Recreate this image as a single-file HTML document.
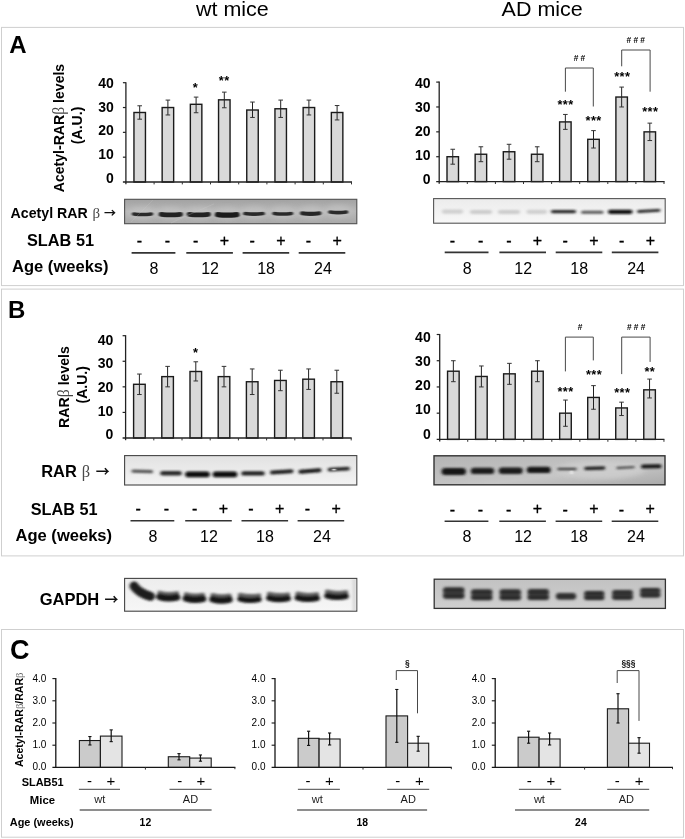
<!DOCTYPE html>
<html lang="en"><head><meta charset="utf-8"><title>Figure</title>
<style>html,body{margin:0;padding:0;background:#fff}svg{display:block}</style></head><body>
<svg width="685" height="839" viewBox="0 0 685 839" font-family='"Liberation Sans", sans-serif'>
<defs>
<filter id="b1" filterUnits="userSpaceOnUse" x="100" y="190" width="585" height="430"><feGaussianBlur stdDeviation="0.9 0.7"/></filter>
<filter id="b2" filterUnits="userSpaceOnUse" x="100" y="190" width="585" height="430"><feGaussianBlur stdDeviation="1.4 1.0"/></filter>
<filter id="b3" filterUnits="userSpaceOnUse" x="100" y="190" width="585" height="430"><feGaussianBlur stdDeviation="3 2.2"/></filter>
<linearGradient id="gAL" x1="0" y1="0" x2="0" y2="1"><stop offset="0" stop-color="#a2a2a2"/><stop offset="0.5" stop-color="#b8b8b8"/><stop offset="1" stop-color="#a9a9a9"/></linearGradient>
<linearGradient id="gAR" x1="0" y1="0" x2="0" y2="1"><stop offset="0" stop-color="#ececec"/><stop offset="1" stop-color="#f8f8f8"/></linearGradient>
<linearGradient id="gBL" x1="0" y1="0" x2="0" y2="1"><stop offset="0" stop-color="#e2e2e2"/><stop offset="1" stop-color="#f3f3f3"/></linearGradient>
<linearGradient id="gBR" x1="0" y1="0" x2="1" y2="1"><stop offset="0" stop-color="#b4b4b4"/><stop offset="0.6" stop-color="#c6c6c6"/><stop offset="1" stop-color="#aaaaaa"/></linearGradient>
<linearGradient id="gGL" x1="0" y1="0" x2="0" y2="1"><stop offset="0" stop-color="#ededed"/><stop offset="1" stop-color="#f6f6f6"/></linearGradient>
<linearGradient id="gGR" x1="0" y1="0" x2="0" y2="1"><stop offset="0" stop-color="#c2c2c2"/><stop offset="1" stop-color="#cfcfcf"/></linearGradient>
</defs>
<rect width="685" height="839" fill="#fff"/>
<text x="232.4" y="15.6" font-size="20.8" text-anchor="middle" fill="#000" textLength="72.8" lengthAdjust="spacingAndGlyphs">wt mice</text>
<text x="542.2" y="16.3" font-size="21" text-anchor="middle" fill="#000" textLength="81.2" lengthAdjust="spacingAndGlyphs">AD mice</text>
<rect x="1.50" y="27.40" width="682.00" height="258.20" fill="none" stroke="#cfcfcf" stroke-width="1"/>
<rect x="1.50" y="289.10" width="682.00" height="266.80" fill="none" stroke="#cfcfcf" stroke-width="1"/>
<rect x="1.50" y="629.50" width="682.00" height="207.70" fill="none" stroke="#cfcfcf" stroke-width="1"/>
<text x="9.3" y="53.1" font-size="24" font-weight="bold" text-anchor="start" fill="#000">A</text>
<text x="8.0" y="317.7" font-size="24" font-weight="bold" text-anchor="start" fill="#000">B</text>
<text x="9.9" y="659.0" font-size="27" font-weight="bold" text-anchor="start" fill="#000">C</text>
<rect x="133.95" y="112.49" width="11.50" height="69.51" fill="#d9d9d9" stroke="#1a1a1a" stroke-width="1.4"/>
<line x1="139.70" y1="105.79" x2="139.70" y2="119.19" stroke="#222" stroke-width="1.0"/>
<line x1="137.40" y1="105.79" x2="142.00" y2="105.79" stroke="#333" stroke-width="1.0"/>
<line x1="137.40" y1="119.19" x2="142.00" y2="119.19" stroke="#333" stroke-width="1.0"/>
<rect x="162.15" y="107.53" width="11.50" height="74.47" fill="#d9d9d9" stroke="#1a1a1a" stroke-width="1.4"/>
<line x1="167.90" y1="100.08" x2="167.90" y2="114.97" stroke="#222" stroke-width="1.0"/>
<line x1="165.60" y1="100.08" x2="170.20" y2="100.08" stroke="#333" stroke-width="1.0"/>
<line x1="165.60" y1="114.97" x2="170.20" y2="114.97" stroke="#333" stroke-width="1.0"/>
<rect x="190.35" y="104.30" width="11.50" height="77.70" fill="#d9d9d9" stroke="#1a1a1a" stroke-width="1.4"/>
<line x1="196.10" y1="97.10" x2="196.10" y2="112.74" stroke="#222" stroke-width="1.0"/>
<line x1="193.80" y1="97.10" x2="198.40" y2="97.10" stroke="#333" stroke-width="1.0"/>
<line x1="193.80" y1="112.74" x2="198.40" y2="112.74" stroke="#333" stroke-width="1.0"/>
<rect x="218.55" y="99.83" width="11.50" height="82.17" fill="#d9d9d9" stroke="#1a1a1a" stroke-width="1.4"/>
<line x1="224.30" y1="92.13" x2="224.30" y2="107.77" stroke="#222" stroke-width="1.0"/>
<line x1="222.00" y1="92.13" x2="226.60" y2="92.13" stroke="#333" stroke-width="1.0"/>
<line x1="222.00" y1="107.77" x2="226.60" y2="107.77" stroke="#333" stroke-width="1.0"/>
<rect x="246.75" y="110.01" width="11.50" height="71.99" fill="#d9d9d9" stroke="#1a1a1a" stroke-width="1.4"/>
<line x1="252.50" y1="102.06" x2="252.50" y2="117.45" stroke="#222" stroke-width="1.0"/>
<line x1="250.20" y1="102.06" x2="254.80" y2="102.06" stroke="#333" stroke-width="1.0"/>
<line x1="250.20" y1="117.45" x2="254.80" y2="117.45" stroke="#333" stroke-width="1.0"/>
<rect x="274.95" y="108.77" width="11.50" height="73.23" fill="#d9d9d9" stroke="#1a1a1a" stroke-width="1.4"/>
<line x1="280.70" y1="100.08" x2="280.70" y2="117.45" stroke="#222" stroke-width="1.0"/>
<line x1="278.40" y1="100.08" x2="283.00" y2="100.08" stroke="#333" stroke-width="1.0"/>
<line x1="278.40" y1="117.45" x2="283.00" y2="117.45" stroke="#333" stroke-width="1.0"/>
<rect x="303.15" y="107.53" width="11.50" height="74.47" fill="#d9d9d9" stroke="#1a1a1a" stroke-width="1.4"/>
<line x1="308.90" y1="100.08" x2="308.90" y2="114.97" stroke="#222" stroke-width="1.0"/>
<line x1="306.60" y1="100.08" x2="311.20" y2="100.08" stroke="#333" stroke-width="1.0"/>
<line x1="306.60" y1="114.97" x2="311.20" y2="114.97" stroke="#333" stroke-width="1.0"/>
<rect x="331.35" y="112.49" width="11.50" height="69.51" fill="#d9d9d9" stroke="#1a1a1a" stroke-width="1.4"/>
<line x1="337.10" y1="105.54" x2="337.10" y2="119.94" stroke="#222" stroke-width="1.0"/>
<line x1="334.80" y1="105.54" x2="339.40" y2="105.54" stroke="#333" stroke-width="1.0"/>
<line x1="334.80" y1="119.94" x2="339.40" y2="119.94" stroke="#333" stroke-width="1.0"/>
<line x1="125.90" y1="82.20" x2="125.90" y2="184.20" stroke="#222" stroke-width="1.3"/>
<line x1="122.90" y1="182.00" x2="352.00" y2="182.00" stroke="#222" stroke-width="1.3"/>
<line x1="122.90" y1="157.18" x2="125.90" y2="157.18" stroke="#222" stroke-width="1.2"/>
<line x1="122.90" y1="132.35" x2="125.90" y2="132.35" stroke="#222" stroke-width="1.2"/>
<line x1="122.90" y1="107.53" x2="125.90" y2="107.53" stroke="#222" stroke-width="1.2"/>
<line x1="122.90" y1="82.70" x2="125.90" y2="82.70" stroke="#222" stroke-width="1.2"/>
<line x1="154.10" y1="182.00" x2="154.10" y2="184.40" stroke="#333" stroke-width="1.0"/>
<line x1="182.30" y1="182.00" x2="182.30" y2="184.40" stroke="#333" stroke-width="1.0"/>
<line x1="210.50" y1="182.00" x2="210.50" y2="184.40" stroke="#333" stroke-width="1.0"/>
<line x1="238.70" y1="182.00" x2="238.70" y2="184.40" stroke="#333" stroke-width="1.0"/>
<line x1="266.90" y1="182.00" x2="266.90" y2="184.40" stroke="#333" stroke-width="1.0"/>
<line x1="295.10" y1="182.00" x2="295.10" y2="184.40" stroke="#333" stroke-width="1.0"/>
<line x1="323.30" y1="182.00" x2="323.30" y2="184.40" stroke="#333" stroke-width="1.0"/>
<line x1="351.50" y1="182.00" x2="351.50" y2="184.40" stroke="#333" stroke-width="1.0"/>
<text x="113.9" y="182.6" font-size="14.0" font-weight="bold" text-anchor="end" fill="#000">0</text>
<text x="113.9" y="158.9" font-size="14.0" font-weight="bold" text-anchor="end" fill="#000">10</text>
<text x="113.9" y="135.2" font-size="14.0" font-weight="bold" text-anchor="end" fill="#000">20</text>
<text x="113.9" y="111.5" font-size="14.0" font-weight="bold" text-anchor="end" fill="#000">30</text>
<text x="113.9" y="87.8" font-size="14.0" font-weight="bold" text-anchor="end" fill="#000">40</text>
<rect x="447.00" y="156.72" width="11.50" height="24.88" fill="#d9d9d9" stroke="#1a1a1a" stroke-width="1.4"/>
<line x1="452.75" y1="149.26" x2="452.75" y2="164.19" stroke="#222" stroke-width="1.0"/>
<line x1="450.45" y1="149.26" x2="455.05" y2="149.26" stroke="#333" stroke-width="1.0"/>
<line x1="450.45" y1="164.19" x2="455.05" y2="164.19" stroke="#333" stroke-width="1.0"/>
<rect x="475.15" y="154.24" width="11.50" height="27.36" fill="#d9d9d9" stroke="#1a1a1a" stroke-width="1.4"/>
<line x1="480.90" y1="146.78" x2="480.90" y2="161.70" stroke="#222" stroke-width="1.0"/>
<line x1="478.60" y1="146.78" x2="483.20" y2="146.78" stroke="#333" stroke-width="1.0"/>
<line x1="478.60" y1="161.70" x2="483.20" y2="161.70" stroke="#333" stroke-width="1.0"/>
<rect x="503.30" y="151.75" width="11.50" height="29.85" fill="#d9d9d9" stroke="#1a1a1a" stroke-width="1.4"/>
<line x1="509.05" y1="144.29" x2="509.05" y2="159.21" stroke="#222" stroke-width="1.0"/>
<line x1="506.75" y1="144.29" x2="511.35" y2="144.29" stroke="#333" stroke-width="1.0"/>
<line x1="506.75" y1="159.21" x2="511.35" y2="159.21" stroke="#333" stroke-width="1.0"/>
<rect x="531.45" y="154.24" width="11.50" height="27.36" fill="#d9d9d9" stroke="#1a1a1a" stroke-width="1.4"/>
<line x1="537.20" y1="146.78" x2="537.20" y2="161.70" stroke="#222" stroke-width="1.0"/>
<line x1="534.90" y1="146.78" x2="539.50" y2="146.78" stroke="#333" stroke-width="1.0"/>
<line x1="534.90" y1="161.70" x2="539.50" y2="161.70" stroke="#333" stroke-width="1.0"/>
<rect x="559.60" y="121.90" width="11.50" height="59.70" fill="#d9d9d9" stroke="#1a1a1a" stroke-width="1.4"/>
<line x1="565.35" y1="114.44" x2="565.35" y2="129.36" stroke="#222" stroke-width="1.0"/>
<line x1="563.05" y1="114.44" x2="567.65" y2="114.44" stroke="#333" stroke-width="1.0"/>
<line x1="563.05" y1="129.36" x2="567.65" y2="129.36" stroke="#333" stroke-width="1.0"/>
<rect x="587.75" y="139.31" width="11.50" height="42.29" fill="#d9d9d9" stroke="#1a1a1a" stroke-width="1.4"/>
<line x1="593.50" y1="130.61" x2="593.50" y2="148.02" stroke="#222" stroke-width="1.0"/>
<line x1="591.20" y1="130.61" x2="595.80" y2="130.61" stroke="#333" stroke-width="1.0"/>
<line x1="591.20" y1="148.02" x2="595.80" y2="148.02" stroke="#333" stroke-width="1.0"/>
<rect x="615.90" y="97.03" width="11.50" height="84.57" fill="#d9d9d9" stroke="#1a1a1a" stroke-width="1.4"/>
<line x1="621.65" y1="87.08" x2="621.65" y2="106.97" stroke="#222" stroke-width="1.0"/>
<line x1="619.35" y1="87.08" x2="623.95" y2="87.08" stroke="#333" stroke-width="1.0"/>
<line x1="619.35" y1="106.97" x2="623.95" y2="106.97" stroke="#333" stroke-width="1.0"/>
<rect x="644.05" y="131.85" width="11.50" height="49.75" fill="#d9d9d9" stroke="#1a1a1a" stroke-width="1.4"/>
<line x1="649.80" y1="123.14" x2="649.80" y2="140.56" stroke="#222" stroke-width="1.0"/>
<line x1="647.50" y1="123.14" x2="652.10" y2="123.14" stroke="#333" stroke-width="1.0"/>
<line x1="647.50" y1="140.56" x2="652.10" y2="140.56" stroke="#333" stroke-width="1.0"/>
<line x1="439.20" y1="81.60" x2="439.20" y2="183.80" stroke="#222" stroke-width="1.3"/>
<line x1="436.20" y1="181.60" x2="664.60" y2="181.60" stroke="#222" stroke-width="1.3"/>
<line x1="436.20" y1="156.72" x2="439.20" y2="156.72" stroke="#222" stroke-width="1.2"/>
<line x1="436.20" y1="131.85" x2="439.20" y2="131.85" stroke="#222" stroke-width="1.2"/>
<line x1="436.20" y1="106.97" x2="439.20" y2="106.97" stroke="#222" stroke-width="1.2"/>
<line x1="436.20" y1="82.10" x2="439.20" y2="82.10" stroke="#222" stroke-width="1.2"/>
<line x1="467.30" y1="181.60" x2="467.30" y2="184.00" stroke="#333" stroke-width="1.0"/>
<line x1="495.40" y1="181.60" x2="495.40" y2="184.00" stroke="#333" stroke-width="1.0"/>
<line x1="523.50" y1="181.60" x2="523.50" y2="184.00" stroke="#333" stroke-width="1.0"/>
<line x1="551.60" y1="181.60" x2="551.60" y2="184.00" stroke="#333" stroke-width="1.0"/>
<line x1="579.70" y1="181.60" x2="579.70" y2="184.00" stroke="#333" stroke-width="1.0"/>
<line x1="607.80" y1="181.60" x2="607.80" y2="184.00" stroke="#333" stroke-width="1.0"/>
<line x1="635.90" y1="181.60" x2="635.90" y2="184.00" stroke="#333" stroke-width="1.0"/>
<line x1="664.00" y1="181.60" x2="664.00" y2="184.00" stroke="#333" stroke-width="1.0"/>
<text x="430.5" y="183.6" font-size="14.0" font-weight="bold" text-anchor="end" fill="#000">0</text>
<text x="430.5" y="159.8" font-size="14.0" font-weight="bold" text-anchor="end" fill="#000">10</text>
<text x="430.5" y="136.0" font-size="14.0" font-weight="bold" text-anchor="end" fill="#000">20</text>
<text x="430.5" y="112.2" font-size="14.0" font-weight="bold" text-anchor="end" fill="#000">30</text>
<text x="430.5" y="88.4" font-size="14.0" font-weight="bold" text-anchor="end" fill="#000">40</text>
<rect x="133.60" y="384.29" width="11.60" height="53.71" fill="#d9d9d9" stroke="#1a1a1a" stroke-width="1.4"/>
<line x1="139.40" y1="374.06" x2="139.40" y2="394.52" stroke="#222" stroke-width="1.0"/>
<line x1="137.10" y1="374.06" x2="141.70" y2="374.06" stroke="#333" stroke-width="1.0"/>
<line x1="137.10" y1="394.52" x2="141.70" y2="394.52" stroke="#333" stroke-width="1.0"/>
<rect x="161.80" y="376.62" width="11.60" height="61.38" fill="#d9d9d9" stroke="#1a1a1a" stroke-width="1.4"/>
<line x1="167.60" y1="366.39" x2="167.60" y2="386.85" stroke="#222" stroke-width="1.0"/>
<line x1="165.30" y1="366.39" x2="169.90" y2="366.39" stroke="#333" stroke-width="1.0"/>
<line x1="165.30" y1="386.85" x2="169.90" y2="386.85" stroke="#333" stroke-width="1.0"/>
<rect x="190.00" y="371.50" width="11.60" height="66.50" fill="#d9d9d9" stroke="#1a1a1a" stroke-width="1.4"/>
<line x1="195.80" y1="361.79" x2="195.80" y2="380.97" stroke="#222" stroke-width="1.0"/>
<line x1="193.50" y1="361.79" x2="198.10" y2="361.79" stroke="#333" stroke-width="1.0"/>
<line x1="193.50" y1="380.97" x2="198.10" y2="380.97" stroke="#333" stroke-width="1.0"/>
<rect x="218.20" y="376.62" width="11.60" height="61.38" fill="#d9d9d9" stroke="#1a1a1a" stroke-width="1.4"/>
<line x1="224.00" y1="366.39" x2="224.00" y2="386.85" stroke="#222" stroke-width="1.0"/>
<line x1="221.70" y1="366.39" x2="226.30" y2="366.39" stroke="#333" stroke-width="1.0"/>
<line x1="221.70" y1="386.85" x2="226.30" y2="386.85" stroke="#333" stroke-width="1.0"/>
<rect x="246.40" y="381.74" width="11.60" height="56.26" fill="#d9d9d9" stroke="#1a1a1a" stroke-width="1.4"/>
<line x1="252.20" y1="368.95" x2="252.20" y2="394.52" stroke="#222" stroke-width="1.0"/>
<line x1="249.90" y1="368.95" x2="254.50" y2="368.95" stroke="#333" stroke-width="1.0"/>
<line x1="249.90" y1="394.52" x2="254.50" y2="394.52" stroke="#333" stroke-width="1.0"/>
<rect x="274.60" y="380.46" width="11.60" height="57.54" fill="#d9d9d9" stroke="#1a1a1a" stroke-width="1.4"/>
<line x1="280.40" y1="370.23" x2="280.40" y2="390.69" stroke="#222" stroke-width="1.0"/>
<line x1="278.10" y1="370.23" x2="282.70" y2="370.23" stroke="#333" stroke-width="1.0"/>
<line x1="278.10" y1="390.69" x2="282.70" y2="390.69" stroke="#333" stroke-width="1.0"/>
<rect x="302.80" y="379.18" width="11.60" height="58.82" fill="#d9d9d9" stroke="#1a1a1a" stroke-width="1.4"/>
<line x1="308.60" y1="368.95" x2="308.60" y2="389.41" stroke="#222" stroke-width="1.0"/>
<line x1="306.30" y1="368.95" x2="310.90" y2="368.95" stroke="#333" stroke-width="1.0"/>
<line x1="306.30" y1="389.41" x2="310.90" y2="389.41" stroke="#333" stroke-width="1.0"/>
<rect x="331.00" y="381.74" width="11.60" height="56.26" fill="#d9d9d9" stroke="#1a1a1a" stroke-width="1.4"/>
<line x1="336.80" y1="370.23" x2="336.80" y2="393.24" stroke="#222" stroke-width="1.0"/>
<line x1="334.50" y1="370.23" x2="339.10" y2="370.23" stroke="#333" stroke-width="1.0"/>
<line x1="334.50" y1="393.24" x2="339.10" y2="393.24" stroke="#333" stroke-width="1.0"/>
<line x1="125.60" y1="335.20" x2="125.60" y2="440.20" stroke="#222" stroke-width="1.3"/>
<line x1="122.60" y1="438.00" x2="351.70" y2="438.00" stroke="#222" stroke-width="1.3"/>
<line x1="122.60" y1="412.43" x2="125.60" y2="412.43" stroke="#222" stroke-width="1.2"/>
<line x1="122.60" y1="386.85" x2="125.60" y2="386.85" stroke="#222" stroke-width="1.2"/>
<line x1="122.60" y1="361.27" x2="125.60" y2="361.27" stroke="#222" stroke-width="1.2"/>
<line x1="122.60" y1="335.70" x2="125.60" y2="335.70" stroke="#222" stroke-width="1.2"/>
<line x1="153.80" y1="438.00" x2="153.80" y2="440.40" stroke="#333" stroke-width="1.0"/>
<line x1="182.00" y1="438.00" x2="182.00" y2="440.40" stroke="#333" stroke-width="1.0"/>
<line x1="210.20" y1="438.00" x2="210.20" y2="440.40" stroke="#333" stroke-width="1.0"/>
<line x1="238.40" y1="438.00" x2="238.40" y2="440.40" stroke="#333" stroke-width="1.0"/>
<line x1="266.60" y1="438.00" x2="266.60" y2="440.40" stroke="#333" stroke-width="1.0"/>
<line x1="294.80" y1="438.00" x2="294.80" y2="440.40" stroke="#333" stroke-width="1.0"/>
<line x1="323.00" y1="438.00" x2="323.00" y2="440.40" stroke="#333" stroke-width="1.0"/>
<line x1="351.20" y1="438.00" x2="351.20" y2="440.40" stroke="#333" stroke-width="1.0"/>
<text x="113.4" y="439.1" font-size="14.0" font-weight="bold" text-anchor="end" fill="#000">0</text>
<text x="113.4" y="415.5" font-size="14.0" font-weight="bold" text-anchor="end" fill="#000">10</text>
<text x="113.4" y="391.9" font-size="14.0" font-weight="bold" text-anchor="end" fill="#000">20</text>
<text x="113.4" y="368.3" font-size="14.0" font-weight="bold" text-anchor="end" fill="#000">30</text>
<text x="113.4" y="344.7" font-size="14.0" font-weight="bold" text-anchor="end" fill="#000">40</text>
<rect x="447.55" y="371.21" width="11.60" height="68.19" fill="#d9d9d9" stroke="#1a1a1a" stroke-width="1.4"/>
<line x1="453.35" y1="360.72" x2="453.35" y2="381.70" stroke="#222" stroke-width="1.0"/>
<line x1="451.05" y1="360.72" x2="455.65" y2="360.72" stroke="#333" stroke-width="1.0"/>
<line x1="451.05" y1="381.70" x2="455.65" y2="381.70" stroke="#333" stroke-width="1.0"/>
<rect x="475.58" y="376.46" width="11.60" height="62.94" fill="#d9d9d9" stroke="#1a1a1a" stroke-width="1.4"/>
<line x1="481.38" y1="365.97" x2="481.38" y2="386.95" stroke="#222" stroke-width="1.0"/>
<line x1="479.08" y1="365.97" x2="483.68" y2="365.97" stroke="#333" stroke-width="1.0"/>
<line x1="479.08" y1="386.95" x2="483.68" y2="386.95" stroke="#333" stroke-width="1.0"/>
<rect x="503.61" y="373.84" width="11.60" height="65.56" fill="#d9d9d9" stroke="#1a1a1a" stroke-width="1.4"/>
<line x1="509.41" y1="363.35" x2="509.41" y2="384.33" stroke="#222" stroke-width="1.0"/>
<line x1="507.11" y1="363.35" x2="511.71" y2="363.35" stroke="#333" stroke-width="1.0"/>
<line x1="507.11" y1="384.33" x2="511.71" y2="384.33" stroke="#333" stroke-width="1.0"/>
<rect x="531.64" y="371.21" width="11.60" height="68.19" fill="#d9d9d9" stroke="#1a1a1a" stroke-width="1.4"/>
<line x1="537.44" y1="360.72" x2="537.44" y2="381.70" stroke="#222" stroke-width="1.0"/>
<line x1="535.14" y1="360.72" x2="539.74" y2="360.72" stroke="#333" stroke-width="1.0"/>
<line x1="535.14" y1="381.70" x2="539.74" y2="381.70" stroke="#333" stroke-width="1.0"/>
<rect x="559.67" y="413.17" width="11.60" height="26.23" fill="#d9d9d9" stroke="#1a1a1a" stroke-width="1.4"/>
<line x1="565.47" y1="400.06" x2="565.47" y2="426.29" stroke="#222" stroke-width="1.0"/>
<line x1="563.17" y1="400.06" x2="567.77" y2="400.06" stroke="#333" stroke-width="1.0"/>
<line x1="563.17" y1="426.29" x2="567.77" y2="426.29" stroke="#333" stroke-width="1.0"/>
<rect x="587.70" y="397.44" width="11.60" height="41.96" fill="#d9d9d9" stroke="#1a1a1a" stroke-width="1.4"/>
<line x1="593.50" y1="385.64" x2="593.50" y2="409.24" stroke="#222" stroke-width="1.0"/>
<line x1="591.20" y1="385.64" x2="595.80" y2="385.64" stroke="#333" stroke-width="1.0"/>
<line x1="591.20" y1="409.24" x2="595.80" y2="409.24" stroke="#333" stroke-width="1.0"/>
<rect x="615.73" y="407.93" width="11.60" height="31.47" fill="#d9d9d9" stroke="#1a1a1a" stroke-width="1.4"/>
<line x1="621.53" y1="402.16" x2="621.53" y2="415.54" stroke="#222" stroke-width="1.0"/>
<line x1="619.23" y1="402.16" x2="623.83" y2="402.16" stroke="#333" stroke-width="1.0"/>
<line x1="619.23" y1="415.54" x2="623.83" y2="415.54" stroke="#333" stroke-width="1.0"/>
<rect x="643.76" y="389.83" width="11.60" height="49.57" fill="#d9d9d9" stroke="#1a1a1a" stroke-width="1.4"/>
<line x1="649.56" y1="379.08" x2="649.56" y2="397.96" stroke="#222" stroke-width="1.0"/>
<line x1="647.26" y1="379.08" x2="651.86" y2="379.08" stroke="#333" stroke-width="1.0"/>
<line x1="647.26" y1="397.96" x2="651.86" y2="397.96" stroke="#333" stroke-width="1.0"/>
<line x1="439.70" y1="334.00" x2="439.70" y2="441.60" stroke="#222" stroke-width="1.3"/>
<line x1="436.70" y1="439.40" x2="664.40" y2="439.40" stroke="#222" stroke-width="1.3"/>
<line x1="436.70" y1="413.17" x2="439.70" y2="413.17" stroke="#222" stroke-width="1.2"/>
<line x1="436.70" y1="386.95" x2="439.70" y2="386.95" stroke="#222" stroke-width="1.2"/>
<line x1="436.70" y1="360.72" x2="439.70" y2="360.72" stroke="#222" stroke-width="1.2"/>
<line x1="436.70" y1="334.50" x2="439.70" y2="334.50" stroke="#222" stroke-width="1.2"/>
<line x1="467.73" y1="439.40" x2="467.73" y2="441.80" stroke="#333" stroke-width="1.0"/>
<line x1="495.76" y1="439.40" x2="495.76" y2="441.80" stroke="#333" stroke-width="1.0"/>
<line x1="523.79" y1="439.40" x2="523.79" y2="441.80" stroke="#333" stroke-width="1.0"/>
<line x1="551.82" y1="439.40" x2="551.82" y2="441.80" stroke="#333" stroke-width="1.0"/>
<line x1="579.85" y1="439.40" x2="579.85" y2="441.80" stroke="#333" stroke-width="1.0"/>
<line x1="607.88" y1="439.40" x2="607.88" y2="441.80" stroke="#333" stroke-width="1.0"/>
<line x1="635.91" y1="439.40" x2="635.91" y2="441.80" stroke="#333" stroke-width="1.0"/>
<line x1="663.94" y1="439.40" x2="663.94" y2="441.80" stroke="#333" stroke-width="1.0"/>
<text x="430.7" y="438.5" font-size="14.0" font-weight="bold" text-anchor="end" fill="#000">0</text>
<text x="430.7" y="414.25" font-size="14.0" font-weight="bold" text-anchor="end" fill="#000">10</text>
<text x="430.7" y="390.0" font-size="14.0" font-weight="bold" text-anchor="end" fill="#000">20</text>
<text x="430.7" y="365.75" font-size="14.0" font-weight="bold" text-anchor="end" fill="#000">30</text>
<text x="430.7" y="341.5" font-size="14.0" font-weight="bold" text-anchor="end" fill="#000">40</text>
<text transform="translate(64.2,128) rotate(-90)" font-size="14" font-weight="bold" text-anchor="middle" textLength="128.4" lengthAdjust="spacingAndGlyphs">Acetyl-RAR<tspan font-family='"Liberation Serif", serif' font-weight="normal" fill="#444" font-size="1.12em">β</tspan> levels</text>
<text transform="translate(82.4,125.4) rotate(-90)" font-size="14" font-weight="bold" text-anchor="middle" textLength="37.6" lengthAdjust="spacingAndGlyphs">(A.U.)</text>
<text transform="translate(69.3,387.0) rotate(-90)" font-size="14" font-weight="bold" text-anchor="middle" textLength="81.8" lengthAdjust="spacingAndGlyphs">RAR<tspan font-family='"Liberation Serif", serif' font-weight="normal" fill="#444" font-size="1.12em">β</tspan> levels</text>
<text transform="translate(87.0,384.8) rotate(-90)" font-size="14" font-weight="bold" text-anchor="middle" textLength="37.4" lengthAdjust="spacingAndGlyphs">(A.U.)</text>
<text x="195.5" y="91.96" font-size="12.8" font-weight="bold" text-anchor="middle" fill="#000" letter-spacing="0.4">*</text>
<text x="224.2" y="85.06" font-size="12.8" font-weight="bold" text-anchor="middle" fill="#000" letter-spacing="0.4">**</text>
<text x="565.5" y="108.56" font-size="12.8" font-weight="bold" text-anchor="middle" fill="#000" letter-spacing="0.4">***</text>
<text x="593.6" y="125.46" font-size="12.8" font-weight="bold" text-anchor="middle" fill="#000" letter-spacing="0.4">***</text>
<text x="622.2" y="80.66" font-size="12.8" font-weight="bold" text-anchor="middle" fill="#000" letter-spacing="0.4">***</text>
<text x="650.2" y="116.16" font-size="12.8" font-weight="bold" text-anchor="middle" fill="#000" letter-spacing="0.4">***</text>
<text x="580.6" y="61.11" font-size="8.4" font-weight="bold" text-anchor="middle" fill="#000" letter-spacing="2.2">##</text>
<text x="636.9" y="42.91" font-size="8.4" font-weight="bold" text-anchor="middle" fill="#000" letter-spacing="2.2">###</text>
<path d="M565.40 91.70 V68.00 H593.30 V106.50" fill="none" stroke="#484848" stroke-width="1.0"/>
<path d="M621.70 66.30 V50.00 H650.10 V91.70" fill="none" stroke="#484848" stroke-width="1.0"/>
<text x="195.6" y="356.96" font-size="12.8" font-weight="bold" text-anchor="middle" fill="#000" letter-spacing="0.4">*</text>
<text x="565.5" y="395.66" font-size="12.8" font-weight="bold" text-anchor="middle" fill="#000" letter-spacing="0.4">***</text>
<text x="594.0" y="379.36" font-size="12.8" font-weight="bold" text-anchor="middle" fill="#000" letter-spacing="0.4">***</text>
<text x="622.2" y="396.76" font-size="12.8" font-weight="bold" text-anchor="middle" fill="#000" letter-spacing="0.4">***</text>
<text x="649.8" y="375.56" font-size="12.8" font-weight="bold" text-anchor="middle" fill="#000" letter-spacing="0.4">**</text>
<text x="581.3" y="329.61" font-size="8.4" font-weight="bold" text-anchor="middle" fill="#000" letter-spacing="2.2">#</text>
<text x="637.3" y="329.61" font-size="8.4" font-weight="bold" text-anchor="middle" fill="#000" letter-spacing="2.2">###</text>
<path d="M565.40 371.40 V337.10 H593.30 V360.40" fill="none" stroke="#484848" stroke-width="1.0"/>
<path d="M621.70 374.10 V337.10 H650.10 V361.90" fill="none" stroke="#484848" stroke-width="1.0"/>
<text x="10.6" y="218.0" font-size="14.2" font-weight="bold" text-anchor="start" fill="#000" textLength="77.2" lengthAdjust="spacingAndGlyphs">Acetyl RAR</text>
<text x="92.6" y="218.0" font-size="15" font-family='"Liberation Serif", serif' fill="#4a4a4a" textLength="7.6" lengthAdjust="spacingAndGlyphs">β</text>
<text x="104.0" y="218.2" font-size="12" font-weight="bold" font-family='"Noto Sans CJK SC", sans-serif' fill="#111">→</text>
<text x="27.0" y="245.9" font-size="16" font-weight="bold" text-anchor="start" fill="#000" textLength="67" lengthAdjust="spacingAndGlyphs">SLAB 51</text>
<text x="12.0" y="271.5" font-size="16" font-weight="bold" text-anchor="start" fill="#000" textLength="96.6" lengthAdjust="spacingAndGlyphs">Age (weeks)</text>
<text x="41.2" y="476.6" font-size="16.5" font-weight="bold" text-anchor="start" fill="#000" textLength="35.6" lengthAdjust="spacingAndGlyphs">RAR</text>
<text x="81.8" y="476.6" font-size="17" font-family='"Liberation Serif", serif' fill="#4a4a4a" textLength="8.4" lengthAdjust="spacingAndGlyphs">β</text>
<text x="95.8" y="476.0" font-size="14" font-weight="bold" font-family='"Noto Sans CJK SC", sans-serif' fill="#111">→</text>
<text x="30.7" y="514.5" font-size="16" font-weight="bold" text-anchor="start" fill="#000" textLength="66.8" lengthAdjust="spacingAndGlyphs">SLAB 51</text>
<text x="15.5" y="540.7" font-size="16" font-weight="bold" text-anchor="start" fill="#000" textLength="96.6" lengthAdjust="spacingAndGlyphs">Age (weeks)</text>
<text x="39.7" y="605.0" font-size="16.5" font-weight="bold" text-anchor="start" fill="#000">GAPDH</text>
<text x="104.4" y="604.4" font-size="14" font-weight="bold" font-family='"Noto Sans CJK SC", sans-serif' fill="#111">→</text>
<text x="139.3" y="246.32" font-size="16" text-anchor="middle" fill="#000" stroke="#000" stroke-width="0.35">-</text>
<text x="167.5" y="246.32" font-size="16" text-anchor="middle" fill="#000" stroke="#000" stroke-width="0.35">-</text>
<text x="195.7" y="246.32" font-size="16" text-anchor="middle" fill="#000" stroke="#000" stroke-width="0.35">-</text>
<text x="224.4" y="246.16" font-size="16" text-anchor="middle" fill="#000" stroke="#000" stroke-width="0.3">+</text>
<text x="252.1" y="246.32" font-size="16" text-anchor="middle" fill="#000" stroke="#000" stroke-width="0.35">-</text>
<text x="280.8" y="246.16" font-size="16" text-anchor="middle" fill="#000" stroke="#000" stroke-width="0.3">+</text>
<text x="308.5" y="246.32" font-size="16" text-anchor="middle" fill="#000" stroke="#000" stroke-width="0.35">-</text>
<text x="337.20000000000005" y="246.16" font-size="16" text-anchor="middle" fill="#000" stroke="#000" stroke-width="0.3">+</text>
<line x1="131.60" y1="252.90" x2="175.40" y2="252.90" stroke="#333" stroke-width="1.6"/>
<line x1="186.30" y1="252.90" x2="232.90" y2="252.90" stroke="#333" stroke-width="1.6"/>
<line x1="242.60" y1="252.90" x2="289.20" y2="252.90" stroke="#333" stroke-width="1.6"/>
<line x1="298.70" y1="252.90" x2="345.30" y2="252.90" stroke="#333" stroke-width="1.6"/>
<text x="154" y="274.1" font-size="16" text-anchor="middle" fill="#000">8</text>
<text x="210.1" y="274.1" font-size="16" text-anchor="middle" fill="#000">12</text>
<text x="266.1" y="274.1" font-size="16" text-anchor="middle" fill="#000">18</text>
<text x="323.0" y="274.1" font-size="16" text-anchor="middle" fill="#000">24</text>
<text x="452.4" y="245.82" font-size="16" text-anchor="middle" fill="#000" stroke="#000" stroke-width="0.35">-</text>
<text x="480.6" y="245.82" font-size="16" text-anchor="middle" fill="#000" stroke="#000" stroke-width="0.35">-</text>
<text x="508.8" y="245.82" font-size="16" text-anchor="middle" fill="#000" stroke="#000" stroke-width="0.35">-</text>
<text x="537.5" y="245.66" font-size="16" text-anchor="middle" fill="#000" stroke="#000" stroke-width="0.3">+</text>
<text x="565.2" y="245.82" font-size="16" text-anchor="middle" fill="#000" stroke="#000" stroke-width="0.35">-</text>
<text x="593.9000000000001" y="245.66" font-size="16" text-anchor="middle" fill="#000" stroke="#000" stroke-width="0.3">+</text>
<text x="621.6" y="245.82" font-size="16" text-anchor="middle" fill="#000" stroke="#000" stroke-width="0.35">-</text>
<text x="650.3000000000001" y="245.66" font-size="16" text-anchor="middle" fill="#000" stroke="#000" stroke-width="0.3">+</text>
<line x1="444.70" y1="252.40" x2="488.50" y2="252.40" stroke="#333" stroke-width="1.6"/>
<line x1="499.40" y1="252.40" x2="546.00" y2="252.40" stroke="#333" stroke-width="1.6"/>
<line x1="555.70" y1="252.40" x2="602.30" y2="252.40" stroke="#333" stroke-width="1.6"/>
<line x1="611.80" y1="252.40" x2="658.40" y2="252.40" stroke="#333" stroke-width="1.6"/>
<text x="467.1" y="273.6" font-size="16" text-anchor="middle" fill="#000">8</text>
<text x="523.2" y="273.6" font-size="16" text-anchor="middle" fill="#000">12</text>
<text x="579.2" y="273.6" font-size="16" text-anchor="middle" fill="#000">18</text>
<text x="636.1" y="273.6" font-size="16" text-anchor="middle" fill="#000">24</text>
<text x="138.2" y="514.12" font-size="16" text-anchor="middle" fill="#000" stroke="#000" stroke-width="0.35">-</text>
<text x="166.4" y="514.12" font-size="16" text-anchor="middle" fill="#000" stroke="#000" stroke-width="0.35">-</text>
<text x="194.6" y="514.12" font-size="16" text-anchor="middle" fill="#000" stroke="#000" stroke-width="0.35">-</text>
<text x="223.3" y="513.96" font-size="16" text-anchor="middle" fill="#000" stroke="#000" stroke-width="0.3">+</text>
<text x="251.0" y="514.12" font-size="16" text-anchor="middle" fill="#000" stroke="#000" stroke-width="0.35">-</text>
<text x="279.7" y="513.96" font-size="16" text-anchor="middle" fill="#000" stroke="#000" stroke-width="0.3">+</text>
<text x="307.4" y="514.12" font-size="16" text-anchor="middle" fill="#000" stroke="#000" stroke-width="0.35">-</text>
<text x="336.1" y="513.96" font-size="16" text-anchor="middle" fill="#000" stroke="#000" stroke-width="0.3">+</text>
<line x1="130.50" y1="520.70" x2="174.30" y2="520.70" stroke="#333" stroke-width="1.6"/>
<line x1="185.20" y1="520.70" x2="231.80" y2="520.70" stroke="#333" stroke-width="1.6"/>
<line x1="241.50" y1="520.70" x2="288.10" y2="520.70" stroke="#333" stroke-width="1.6"/>
<line x1="297.60" y1="520.70" x2="344.20" y2="520.70" stroke="#333" stroke-width="1.6"/>
<text x="152.9" y="541.9000000000001" font-size="16" text-anchor="middle" fill="#000">8</text>
<text x="209.0" y="541.9000000000001" font-size="16" text-anchor="middle" fill="#000">12</text>
<text x="265.0" y="541.9000000000001" font-size="16" text-anchor="middle" fill="#000">18</text>
<text x="321.9" y="541.9000000000001" font-size="16" text-anchor="middle" fill="#000">24</text>
<text x="452.3" y="514.62" font-size="16" text-anchor="middle" fill="#000" stroke="#000" stroke-width="0.35">-</text>
<text x="480.5" y="514.62" font-size="16" text-anchor="middle" fill="#000" stroke="#000" stroke-width="0.35">-</text>
<text x="508.7" y="514.62" font-size="16" text-anchor="middle" fill="#000" stroke="#000" stroke-width="0.35">-</text>
<text x="537.4" y="514.46" font-size="16" text-anchor="middle" fill="#000" stroke="#000" stroke-width="0.3">+</text>
<text x="565.1" y="514.62" font-size="16" text-anchor="middle" fill="#000" stroke="#000" stroke-width="0.35">-</text>
<text x="593.8" y="514.46" font-size="16" text-anchor="middle" fill="#000" stroke="#000" stroke-width="0.3">+</text>
<text x="621.5" y="514.62" font-size="16" text-anchor="middle" fill="#000" stroke="#000" stroke-width="0.35">-</text>
<text x="650.2" y="514.46" font-size="16" text-anchor="middle" fill="#000" stroke="#000" stroke-width="0.3">+</text>
<line x1="444.60" y1="521.20" x2="488.40" y2="521.20" stroke="#333" stroke-width="1.6"/>
<line x1="499.30" y1="521.20" x2="545.90" y2="521.20" stroke="#333" stroke-width="1.6"/>
<line x1="555.60" y1="521.20" x2="602.20" y2="521.20" stroke="#333" stroke-width="1.6"/>
<line x1="611.70" y1="521.20" x2="658.30" y2="521.20" stroke="#333" stroke-width="1.6"/>
<text x="467.0" y="542.4000000000001" font-size="16" text-anchor="middle" fill="#000">8</text>
<text x="523.1" y="542.4000000000001" font-size="16" text-anchor="middle" fill="#000">12</text>
<text x="579.1" y="542.4000000000001" font-size="16" text-anchor="middle" fill="#000">18</text>
<text x="636.0" y="542.4000000000001" font-size="16" text-anchor="middle" fill="#000">24</text>
<rect x="124.60" y="199.30" width="232.20" height="24.40" fill="url(#gAL)" stroke="#505050" stroke-width="1.1"/>
<ellipse cx="142.5" cy="212.9" rx="14.0" ry="6.5" fill="#c6c6c6" filter="url(#b3)" opacity="0.55"/>
<ellipse cx="170.8" cy="213.2" rx="14.8" ry="6.5" fill="#c6c6c6" filter="url(#b3)" opacity="0.55"/>
<ellipse cx="198.8" cy="213.2" rx="14.8" ry="6.5" fill="#c6c6c6" filter="url(#b3)" opacity="0.55"/>
<ellipse cx="227.2" cy="213.5" rx="14.8" ry="6.5" fill="#c6c6c6" filter="url(#b3)" opacity="0.55"/>
<ellipse cx="254.0" cy="212.4" rx="14.0" ry="6.5" fill="#c6c6c6" filter="url(#b3)" opacity="0.55"/>
<ellipse cx="282.8" cy="212.4" rx="13.8" ry="6.5" fill="#c6c6c6" filter="url(#b3)" opacity="0.55"/>
<ellipse cx="310.8" cy="212.2" rx="13.8" ry="6.5" fill="#c6c6c6" filter="url(#b3)" opacity="0.55"/>
<ellipse cx="338.2" cy="210.9" rx="13.2" ry="6.5" fill="#c6c6c6" filter="url(#b3)" opacity="0.55"/>
<path d="M133.5 214.05 Q142.5 215.10 151.5 214.05" fill="none" stroke="#2c2c2c" stroke-width="3.4" stroke-linecap="round" filter="url(#b1)" opacity="1"/>
<path d="M161.0 214.35 Q170.8 215.40 180.5 214.35" fill="none" stroke="#222" stroke-width="4.8" stroke-linecap="round" filter="url(#b1)" opacity="1"/>
<path d="M189.0 214.35 Q198.8 215.40 208.5 214.35" fill="none" stroke="#222" stroke-width="4.6" stroke-linecap="round" filter="url(#b1)" opacity="1"/>
<path d="M217.5 214.65 Q227.2 215.70 237.0 214.65" fill="none" stroke="#1c1c1c" stroke-width="5.2" stroke-linecap="round" filter="url(#b1)" opacity="1"/>
<path d="M245.0 213.55 Q254.0 214.60 263.0 213.55" fill="none" stroke="#2a2a2a" stroke-width="3.6" stroke-linecap="round" filter="url(#b1)" opacity="1"/>
<path d="M274.0 213.55 Q282.8 214.60 291.5 213.55" fill="none" stroke="#2c2c2c" stroke-width="3.5" stroke-linecap="round" filter="url(#b1)" opacity="1"/>
<path d="M302.0 213.35 Q310.8 214.40 319.5 213.35" fill="none" stroke="#262626" stroke-width="4.0" stroke-linecap="round" filter="url(#b1)" opacity="1"/>
<path d="M330.0 212.05 Q338.2 213.10 346.5 212.05" fill="none" stroke="#2c2c2c" stroke-width="3.6" stroke-linecap="round" filter="url(#b1)" opacity="1"/>
<path d="M131 222 L153 200" stroke="#d2d2d2" stroke-width="0.5" opacity="0.35"/><path d="M171 223 Q183 217 214 204" stroke="#d0d0d0" stroke-width="0.5" fill="none" opacity="0.5"/>
<rect x="433.60" y="198.60" width="231.60" height="24.60" fill="url(#gAR)" stroke="#555" stroke-width="1.1"/>
<path d="M444.0 211.60 Q452.5 211.60 461.0 211.60" fill="none" stroke="#888" stroke-width="4.2" stroke-linecap="round" filter="url(#b2)" opacity="0.32"/>
<path d="M472.0 212.00 Q481.0 212.00 490.0 212.00" fill="none" stroke="#888" stroke-width="4.2" stroke-linecap="round" filter="url(#b2)" opacity="0.36"/>
<path d="M500.0 212.00 Q509.0 212.00 518.0 212.00" fill="none" stroke="#888" stroke-width="4.2" stroke-linecap="round" filter="url(#b2)" opacity="0.36"/>
<path d="M528.5 211.80 Q536.8 211.80 545.0 211.80" fill="none" stroke="#888" stroke-width="4.2" stroke-linecap="round" filter="url(#b2)" opacity="0.32"/>
<path d="M552.5 211.60 Q563.5 211.60 574.5 211.60" fill="none" stroke="#262626" stroke-width="3.2" stroke-linecap="round" filter="url(#b2)" opacity="1"/>
<path d="M582.5 212.20 Q592.2 212.20 602.0 212.20" fill="none" stroke="#444" stroke-width="3.0" stroke-linecap="round" filter="url(#b2)" opacity="0.9"/>
<path d="M610.0 211.80 Q620.2 211.80 630.5 211.80" fill="none" stroke="#101010" stroke-width="4.2" stroke-linecap="round" filter="url(#b2)" opacity="1"/>
<path d="M638.5 211.45 Q648.8 210.90 659.0 210.35" fill="none" stroke="#262626" stroke-width="2.9" stroke-linecap="round" filter="url(#b2)" opacity="1"/>
<rect x="124.60" y="455.60" width="232.20" height="29.40" fill="url(#gBL)" stroke="#444" stroke-width="1.1"/>
<path d="M133.0 471.10 Q142.2 471.40 151.5 471.70" fill="none" stroke="#555" stroke-width="3.2" stroke-linecap="round" filter="url(#b2)" opacity="1"/>
<path d="M162.5 473.20 Q171.0 473.20 179.5 473.20" fill="none" stroke="#2a2a2a" stroke-width="4.6" stroke-linecap="round" filter="url(#b2)" opacity="1"/>
<path d="M188.0 474.40 Q197.5 474.40 207.0 474.40" fill="none" stroke="#0a0a0a" stroke-width="5.6" stroke-linecap="round" filter="url(#b2)" opacity="1"/>
<path d="M215.5 474.40 Q225.0 474.40 234.5 474.40" fill="none" stroke="#0a0a0a" stroke-width="5.6" stroke-linecap="round" filter="url(#b2)" opacity="1"/>
<path d="M243.5 473.40 Q253.0 473.40 262.5 473.40" fill="none" stroke="#222" stroke-width="4.4" stroke-linecap="round" filter="url(#b2)" opacity="1"/>
<path d="M272.0 472.40 Q281.8 471.80 291.5 471.20" fill="none" stroke="#222" stroke-width="4.0" stroke-linecap="round" filter="url(#b2)" opacity="1"/>
<path d="M300.5 471.80 Q310.0 471.00 319.5 470.20" fill="none" stroke="#1a1a1a" stroke-width="4.0" stroke-linecap="round" filter="url(#b2)" opacity="1"/>
<path d="M329.5 469.70 Q338.8 469.20 348.0 468.70" fill="none" stroke="#2a2a2a" stroke-width="3.8" stroke-linecap="round" filter="url(#b2)" opacity="1"/>
<ellipse cx="334.0" cy="469.7" rx="2.2" ry="0.9" fill="#eeeeee" filter="url(#b1)" opacity="0.9"/>
<rect x="434.00" y="455.80" width="231.00" height="29.00" fill="url(#gBR)" stroke="#333" stroke-width="1.4"/>
<ellipse cx="600" cy="470" rx="45" ry="9" fill="#cfcfcf" filter="url(#b3)" opacity="0.8"/>
<path d="M445.0 471.40 Q453.8 471.40 462.5 471.40" fill="none" stroke="#181818" stroke-width="7.0" stroke-linecap="round" filter="url(#b2)" opacity="1"/>
<path d="M474.0 470.90 Q482.5 470.90 491.0 470.90" fill="none" stroke="#1c1c1c" stroke-width="6.4" stroke-linecap="round" filter="url(#b2)" opacity="1"/>
<path d="M502.0 470.80 Q510.8 470.80 519.5 470.80" fill="none" stroke="#1c1c1c" stroke-width="6.4" stroke-linecap="round" filter="url(#b2)" opacity="1"/>
<path d="M530.0 469.90 Q538.8 469.90 547.5 469.90" fill="none" stroke="#181818" stroke-width="6.4" stroke-linecap="round" filter="url(#b2)" opacity="1"/>
<path d="M558.5 469.00 Q567.0 469.00 575.5 469.00" fill="none" stroke="#383838" stroke-width="2.4" stroke-linecap="round" filter="url(#b2)" opacity="0.95"/>
<path d="M586.0 468.55 Q594.8 468.30 603.5 468.05" fill="none" stroke="#262626" stroke-width="3.6" stroke-linecap="round" filter="url(#b2)" opacity="1"/>
<path d="M617.5 468.00 Q625.5 467.60 633.5 467.20" fill="none" stroke="#444" stroke-width="2.3" stroke-linecap="round" filter="url(#b2)" opacity="0.9"/>
<path d="M643.0 466.60 Q651.2 466.40 659.5 466.20" fill="none" stroke="#141414" stroke-width="4.0" stroke-linecap="round" filter="url(#b2)" opacity="1"/>
<circle cx="571.6" cy="472.4" r="2.0" fill="#e4e4e4" filter="url(#b1)" opacity="0.9"/>
<rect x="124.60" y="578.40" width="232.20" height="32.80" fill="url(#gGL)" stroke="#444" stroke-width="1.1"/>
<g filter="url(#b2)">
<path d="M134 586 Q138.5 593 150.5 596.3" fill="none" stroke="#1c1c1c" stroke-width="9" stroke-linecap="round"/>
<path d="M159.5 592.8 Q168.25 595.1999999999999 177 593.4" fill="none" stroke="#4a4a4a" stroke-width="4.5" stroke-linecap="round" opacity="0.85"/>
<path d="M159.5 596.8 Q168.25 599.4 177 597.1999999999999" fill="none" stroke="#151515" stroke-width="6.6" stroke-linecap="round"/>
<path d="M186 594.4 Q194.5 596.8 203 595.0" fill="none" stroke="#4a4a4a" stroke-width="4.5" stroke-linecap="round" opacity="0.85"/>
<path d="M186 598.4 Q194.5 601.0 203 598.8" fill="none" stroke="#151515" stroke-width="6.6" stroke-linecap="round"/>
<path d="M212.5 595.1999999999999 Q221.0 597.5999999999999 229.5 595.8" fill="none" stroke="#4a4a4a" stroke-width="4.5" stroke-linecap="round" opacity="0.85"/>
<path d="M212.5 599.1999999999999 Q221.0 601.8 229.5 599.5999999999999" fill="none" stroke="#151515" stroke-width="6.4" stroke-linecap="round"/>
<path d="M240 595.0 Q249.5 597.4 259 595.6" fill="none" stroke="#4a4a4a" stroke-width="4.5" stroke-linecap="round" opacity="0.85"/>
<path d="M240 599.0 Q249.5 601.6 259 599.4" fill="none" stroke="#151515" stroke-width="5.4" stroke-linecap="round"/>
<path d="M269 594.0 Q278.5 596.4 288 594.6" fill="none" stroke="#4a4a4a" stroke-width="4.5" stroke-linecap="round" opacity="0.85"/>
<path d="M269 598.0 Q278.5 600.6 288 598.4" fill="none" stroke="#151515" stroke-width="5.8" stroke-linecap="round"/>
<path d="M297.5 593.8 Q307.25 596.1999999999999 317 594.4" fill="none" stroke="#4a4a4a" stroke-width="4.5" stroke-linecap="round" opacity="0.85"/>
<path d="M297.5 597.8 Q307.25 600.4 317 598.1999999999999" fill="none" stroke="#151515" stroke-width="5.8" stroke-linecap="round"/>
<path d="M327 591.8 Q336.5 594.1999999999999 346 592.4" fill="none" stroke="#4a4a4a" stroke-width="4.5" stroke-linecap="round" opacity="0.85"/>
<path d="M327 595.8 Q336.5 598.4 346 596.1999999999999" fill="none" stroke="#151515" stroke-width="5.6" stroke-linecap="round"/>
</g>
<rect x="352.50" y="579.50" width="3.50" height="30.50" fill="#d0d0d0" stroke="none" stroke-width="1" filter="url(#b1)" opacity="0.7"/>
<rect x="434.20" y="579.20" width="231.20" height="29.20" fill="url(#gGR)" stroke="#333" stroke-width="1.3"/>
<g filter="url(#b2)">
<rect x="442.5" y="586.25" width="22.5" height="13.5" rx="3" fill="#8a8a8a" opacity="0.6"/>
<rect x="443.5" y="587.25" width="20.5" height="11.5" rx="2.5" fill="#3c3c3c"/>
<rect x="470.5" y="588.30" width="22.5" height="13.0" rx="3" fill="#8a8a8a" opacity="0.6"/>
<rect x="471.5" y="589.30" width="20.5" height="11.0" rx="2.5" fill="#3c3c3c"/>
<rect x="499" y="588.30" width="22.5" height="13.0" rx="3" fill="#8a8a8a" opacity="0.6"/>
<rect x="500" y="589.30" width="20.5" height="11.0" rx="2.5" fill="#3c3c3c"/>
<rect x="527" y="588.10" width="22.5" height="13.0" rx="3" fill="#8a8a8a" opacity="0.6"/>
<rect x="528" y="589.10" width="20.5" height="11.0" rx="2.5" fill="#3c3c3c"/>
<rect x="555.5" y="592.00" width="21.0" height="8.6" rx="3" fill="#8a8a8a" opacity="0.6"/>
<rect x="556.5" y="593.00" width="19.0" height="6.6" rx="2.5" fill="#3c3c3c"/>
<rect x="583.5" y="589.90" width="21.5" height="11.2" rx="3" fill="#8a8a8a" opacity="0.6"/>
<rect x="584.5" y="590.90" width="19.5" height="9.2" rx="2.5" fill="#3c3c3c"/>
<rect x="611.5" y="589.10" width="22.0" height="11.6" rx="3" fill="#8a8a8a" opacity="0.6"/>
<rect x="612.5" y="590.10" width="20.0" height="9.6" rx="2.5" fill="#3c3c3c"/>
<rect x="639.5" y="586.90" width="21.5" height="11.6" rx="3" fill="#8a8a8a" opacity="0.6"/>
<rect x="640.5" y="587.90" width="19.5" height="9.6" rx="2.5" fill="#3c3c3c"/>
</g>
<g filter="url(#b2)" opacity="0.55">
<line x1="445.0" y1="590.47" x2="462.5" y2="590.47" stroke="#1a1a1a" stroke-width="2.76" stroke-linecap="round"/>
<line x1="445.0" y1="595.76" x2="462.5" y2="595.76" stroke="#1a1a1a" stroke-width="3.22" stroke-linecap="round"/>
<line x1="473.0" y1="592.38" x2="490.5" y2="592.38" stroke="#1a1a1a" stroke-width="2.64" stroke-linecap="round"/>
<line x1="473.0" y1="597.44" x2="490.5" y2="597.44" stroke="#1a1a1a" stroke-width="3.08" stroke-linecap="round"/>
<line x1="501.5" y1="592.38" x2="519.0" y2="592.38" stroke="#1a1a1a" stroke-width="2.64" stroke-linecap="round"/>
<line x1="501.5" y1="597.44" x2="519.0" y2="597.44" stroke="#1a1a1a" stroke-width="3.08" stroke-linecap="round"/>
<line x1="529.5" y1="592.18" x2="547.0" y2="592.18" stroke="#1a1a1a" stroke-width="2.64" stroke-linecap="round"/>
<line x1="529.5" y1="597.24" x2="547.0" y2="597.24" stroke="#1a1a1a" stroke-width="3.08" stroke-linecap="round"/>
<line x1="558.0" y1="596.30" x2="574.0" y2="596.30" stroke="#222" stroke-width="3.30" stroke-linecap="round"/>
<line x1="586.0" y1="593.48" x2="602.5" y2="593.48" stroke="#1a1a1a" stroke-width="2.21" stroke-linecap="round"/>
<line x1="586.0" y1="597.71" x2="602.5" y2="597.71" stroke="#1a1a1a" stroke-width="2.58" stroke-linecap="round"/>
<line x1="614.0" y1="592.79" x2="631.0" y2="592.79" stroke="#1a1a1a" stroke-width="2.30" stroke-linecap="round"/>
<line x1="614.0" y1="597.20" x2="631.0" y2="597.20" stroke="#1a1a1a" stroke-width="2.69" stroke-linecap="round"/>
<line x1="642.0" y1="590.59" x2="658.5" y2="590.59" stroke="#1a1a1a" stroke-width="2.30" stroke-linecap="round"/>
<line x1="642.0" y1="595.00" x2="658.5" y2="595.00" stroke="#1a1a1a" stroke-width="2.69" stroke-linecap="round"/>
</g>
<rect x="79.40" y="740.54" width="21.00" height="26.86" fill="#cbcbcb" stroke="#1a1a1a" stroke-width="1.1"/>
<rect x="100.40" y="736.10" width="21.60" height="31.30" fill="#e4e4e4" stroke="#1a1a1a" stroke-width="1.1"/>
<rect x="168.30" y="756.74" width="21.40" height="10.66" fill="#cbcbcb" stroke="#1a1a1a" stroke-width="1.1"/>
<rect x="189.70" y="758.08" width="21.50" height="9.32" fill="#e4e4e4" stroke="#1a1a1a" stroke-width="1.1"/>
<line x1="89.90" y1="736.54" x2="89.90" y2="744.98" stroke="#111" stroke-width="1.2"/>
<line x1="88.30" y1="736.54" x2="91.50" y2="736.54" stroke="#111" stroke-width="1.1"/>
<line x1="88.30" y1="744.98" x2="91.50" y2="744.98" stroke="#111" stroke-width="1.1"/>
<line x1="111.20" y1="729.88" x2="111.20" y2="741.65" stroke="#111" stroke-width="1.2"/>
<line x1="109.60" y1="729.88" x2="112.80" y2="729.88" stroke="#111" stroke-width="1.1"/>
<line x1="109.60" y1="741.65" x2="112.80" y2="741.65" stroke="#111" stroke-width="1.1"/>
<line x1="179.00" y1="753.64" x2="179.00" y2="759.85" stroke="#111" stroke-width="1.2"/>
<line x1="177.40" y1="753.64" x2="180.60" y2="753.64" stroke="#111" stroke-width="1.1"/>
<line x1="177.40" y1="759.85" x2="180.60" y2="759.85" stroke="#111" stroke-width="1.1"/>
<line x1="200.45" y1="754.97" x2="200.45" y2="761.18" stroke="#111" stroke-width="1.2"/>
<line x1="198.85" y1="754.97" x2="202.05" y2="754.97" stroke="#111" stroke-width="1.1"/>
<line x1="198.85" y1="761.18" x2="202.05" y2="761.18" stroke="#111" stroke-width="1.1"/>
<line x1="55.80" y1="678.10" x2="55.80" y2="768.00" stroke="#161616" stroke-width="1.3"/>
<line x1="52.40" y1="767.40" x2="235.40" y2="767.40" stroke="#161616" stroke-width="1.4"/>
<line x1="52.40" y1="745.20" x2="55.80" y2="745.20" stroke="#161616" stroke-width="1.1"/>
<line x1="52.40" y1="723.00" x2="55.80" y2="723.00" stroke="#161616" stroke-width="1.1"/>
<line x1="52.40" y1="700.80" x2="55.80" y2="700.80" stroke="#161616" stroke-width="1.1"/>
<line x1="52.40" y1="678.60" x2="55.80" y2="678.60" stroke="#161616" stroke-width="1.1"/>
<line x1="145.40" y1="767.40" x2="145.40" y2="769.60" stroke="#333" stroke-width="1.0"/>
<line x1="234.90" y1="767.40" x2="234.90" y2="769.20" stroke="#333" stroke-width="1.0"/>
<text x="46.3" y="769.9" font-size="10.0" text-anchor="end" fill="#000">0.0</text>
<text x="46.3" y="747.82" font-size="10.0" text-anchor="end" fill="#000">1.0</text>
<text x="46.3" y="725.74" font-size="10.0" text-anchor="end" fill="#000">2.0</text>
<text x="46.3" y="703.66" font-size="10.0" text-anchor="end" fill="#000">3.0</text>
<text x="46.3" y="681.58" font-size="10.0" text-anchor="end" fill="#000">4.0</text>
<text x="89.5" y="785.9" font-size="15" text-anchor="middle" fill="#000">-</text>
<text x="110.8" y="786.0" font-size="15" text-anchor="middle" fill="#000">+</text>
<text x="179.8" y="785.9" font-size="15" text-anchor="middle" fill="#000">-</text>
<text x="201.0" y="786.0" font-size="15" text-anchor="middle" fill="#000">+</text>
<line x1="78.90" y1="789.30" x2="120.00" y2="789.30" stroke="#444" stroke-width="1.0"/>
<line x1="169.50" y1="789.30" x2="211.60" y2="789.30" stroke="#444" stroke-width="1.0"/>
<text x="99.7" y="802.8" font-size="11" text-anchor="middle" fill="#1a1a1a">wt</text>
<text x="190.5" y="802.8" font-size="11" text-anchor="middle" fill="#1a1a1a">AD</text>
<line x1="79.70" y1="810.00" x2="211.60" y2="810.00" stroke="#686868" stroke-width="1.5"/>
<text x="145.4" y="825.7" font-size="10.4" font-weight="bold" text-anchor="middle" fill="#000">12</text>
<rect x="298.10" y="738.32" width="21.00" height="29.08" fill="#cbcbcb" stroke="#1a1a1a" stroke-width="1.1"/>
<rect x="319.10" y="738.98" width="21.00" height="28.42" fill="#e4e4e4" stroke="#1a1a1a" stroke-width="1.1"/>
<rect x="386.00" y="715.90" width="21.60" height="51.50" fill="#cbcbcb" stroke="#1a1a1a" stroke-width="1.1"/>
<rect x="407.60" y="743.20" width="21.10" height="24.20" fill="#e4e4e4" stroke="#1a1a1a" stroke-width="1.1"/>
<line x1="308.60" y1="731.21" x2="308.60" y2="745.42" stroke="#111" stroke-width="1.2"/>
<line x1="307.00" y1="731.21" x2="310.20" y2="731.21" stroke="#111" stroke-width="1.1"/>
<line x1="307.00" y1="745.42" x2="310.20" y2="745.42" stroke="#111" stroke-width="1.1"/>
<line x1="329.60" y1="732.99" x2="329.60" y2="744.98" stroke="#111" stroke-width="1.2"/>
<line x1="328.00" y1="732.99" x2="331.20" y2="732.99" stroke="#111" stroke-width="1.1"/>
<line x1="328.00" y1="744.98" x2="331.20" y2="744.98" stroke="#111" stroke-width="1.1"/>
<line x1="396.80" y1="689.48" x2="396.80" y2="742.31" stroke="#111" stroke-width="1.2"/>
<line x1="395.20" y1="689.48" x2="398.40" y2="689.48" stroke="#111" stroke-width="1.1"/>
<line x1="395.20" y1="742.31" x2="398.40" y2="742.31" stroke="#111" stroke-width="1.1"/>
<line x1="418.15" y1="736.32" x2="418.15" y2="751.19" stroke="#111" stroke-width="1.2"/>
<line x1="416.55" y1="736.32" x2="419.75" y2="736.32" stroke="#111" stroke-width="1.1"/>
<line x1="416.55" y1="751.19" x2="419.75" y2="751.19" stroke="#111" stroke-width="1.1"/>
<line x1="275.00" y1="678.10" x2="275.00" y2="768.00" stroke="#161616" stroke-width="1.3"/>
<line x1="271.60" y1="767.40" x2="451.80" y2="767.40" stroke="#161616" stroke-width="1.4"/>
<line x1="271.60" y1="745.20" x2="275.00" y2="745.20" stroke="#161616" stroke-width="1.1"/>
<line x1="271.60" y1="723.00" x2="275.00" y2="723.00" stroke="#161616" stroke-width="1.1"/>
<line x1="271.60" y1="700.80" x2="275.00" y2="700.80" stroke="#161616" stroke-width="1.1"/>
<line x1="271.60" y1="678.60" x2="275.00" y2="678.60" stroke="#161616" stroke-width="1.1"/>
<line x1="363.00" y1="767.40" x2="363.00" y2="769.60" stroke="#333" stroke-width="1.0"/>
<line x1="451.30" y1="767.40" x2="451.30" y2="769.20" stroke="#333" stroke-width="1.0"/>
<text x="265.5" y="769.9" font-size="10.0" text-anchor="end" fill="#000">0.0</text>
<text x="265.5" y="747.82" font-size="10.0" text-anchor="end" fill="#000">1.0</text>
<text x="265.5" y="725.74" font-size="10.0" text-anchor="end" fill="#000">2.0</text>
<text x="265.5" y="703.66" font-size="10.0" text-anchor="end" fill="#000">3.0</text>
<text x="265.5" y="681.58" font-size="10.0" text-anchor="end" fill="#000">4.0</text>
<text x="308.0" y="785.9" font-size="15" text-anchor="middle" fill="#000">-</text>
<text x="329.5" y="786.0" font-size="15" text-anchor="middle" fill="#000">+</text>
<text x="397.8" y="785.9" font-size="15" text-anchor="middle" fill="#000">-</text>
<text x="419.3" y="786.0" font-size="15" text-anchor="middle" fill="#000">+</text>
<line x1="297.90" y1="789.30" x2="339.90" y2="789.30" stroke="#444" stroke-width="1.0"/>
<line x1="387.20" y1="789.30" x2="429.20" y2="789.30" stroke="#444" stroke-width="1.0"/>
<text x="317.3" y="802.8" font-size="11" text-anchor="middle" fill="#1a1a1a">wt</text>
<text x="408.2" y="802.8" font-size="11" text-anchor="middle" fill="#1a1a1a">AD</text>
<line x1="297.10" y1="810.00" x2="427.10" y2="810.00" stroke="#686868" stroke-width="1.5"/>
<text x="362.2" y="825.7" font-size="10.4" font-weight="bold" text-anchor="middle" fill="#000">18</text>
<rect x="518.10" y="737.21" width="21.00" height="30.19" fill="#cbcbcb" stroke="#1a1a1a" stroke-width="1.1"/>
<rect x="539.10" y="738.98" width="21.00" height="28.42" fill="#e4e4e4" stroke="#1a1a1a" stroke-width="1.1"/>
<rect x="607.40" y="708.79" width="21.20" height="58.61" fill="#cbcbcb" stroke="#1a1a1a" stroke-width="1.1"/>
<rect x="628.60" y="743.20" width="20.90" height="24.20" fill="#e4e4e4" stroke="#1a1a1a" stroke-width="1.1"/>
<line x1="528.60" y1="731.21" x2="528.60" y2="743.20" stroke="#111" stroke-width="1.2"/>
<line x1="527.00" y1="731.21" x2="530.20" y2="731.21" stroke="#111" stroke-width="1.1"/>
<line x1="527.00" y1="743.20" x2="530.20" y2="743.20" stroke="#111" stroke-width="1.1"/>
<line x1="549.60" y1="732.99" x2="549.60" y2="744.98" stroke="#111" stroke-width="1.2"/>
<line x1="548.00" y1="732.99" x2="551.20" y2="732.99" stroke="#111" stroke-width="1.1"/>
<line x1="548.00" y1="744.98" x2="551.20" y2="744.98" stroke="#111" stroke-width="1.1"/>
<line x1="618.00" y1="693.70" x2="618.00" y2="723.00" stroke="#111" stroke-width="1.2"/>
<line x1="616.40" y1="693.70" x2="619.60" y2="693.70" stroke="#111" stroke-width="1.1"/>
<line x1="616.40" y1="723.00" x2="619.60" y2="723.00" stroke="#111" stroke-width="1.1"/>
<line x1="639.05" y1="737.65" x2="639.05" y2="753.19" stroke="#111" stroke-width="1.2"/>
<line x1="637.45" y1="737.65" x2="640.65" y2="737.65" stroke="#111" stroke-width="1.1"/>
<line x1="637.45" y1="753.19" x2="640.65" y2="753.19" stroke="#111" stroke-width="1.1"/>
<line x1="495.20" y1="678.10" x2="495.20" y2="768.00" stroke="#161616" stroke-width="1.3"/>
<line x1="491.80" y1="767.40" x2="673.00" y2="767.40" stroke="#161616" stroke-width="1.4"/>
<line x1="491.80" y1="745.20" x2="495.20" y2="745.20" stroke="#161616" stroke-width="1.1"/>
<line x1="491.80" y1="723.00" x2="495.20" y2="723.00" stroke="#161616" stroke-width="1.1"/>
<line x1="491.80" y1="700.80" x2="495.20" y2="700.80" stroke="#161616" stroke-width="1.1"/>
<line x1="491.80" y1="678.60" x2="495.20" y2="678.60" stroke="#161616" stroke-width="1.1"/>
<line x1="584.60" y1="767.40" x2="584.60" y2="769.60" stroke="#333" stroke-width="1.0"/>
<line x1="672.50" y1="767.40" x2="672.50" y2="769.20" stroke="#333" stroke-width="1.0"/>
<text x="485.7" y="769.9" font-size="10.0" text-anchor="end" fill="#000">0.0</text>
<text x="485.7" y="747.82" font-size="10.0" text-anchor="end" fill="#000">1.0</text>
<text x="485.7" y="725.74" font-size="10.0" text-anchor="end" fill="#000">2.0</text>
<text x="485.7" y="703.66" font-size="10.0" text-anchor="end" fill="#000">3.0</text>
<text x="485.7" y="681.58" font-size="10.0" text-anchor="end" fill="#000">4.0</text>
<text x="529.3" y="785.9" font-size="15" text-anchor="middle" fill="#000">-</text>
<text x="550.9" y="786.0" font-size="15" text-anchor="middle" fill="#000">+</text>
<text x="617.3" y="785.9" font-size="15" text-anchor="middle" fill="#000">-</text>
<text x="639.2" y="786.0" font-size="15" text-anchor="middle" fill="#000">+</text>
<line x1="518.90" y1="789.30" x2="561.20" y2="789.30" stroke="#444" stroke-width="1.0"/>
<line x1="607.20" y1="789.30" x2="649.20" y2="789.30" stroke="#444" stroke-width="1.0"/>
<text x="539.4" y="802.8" font-size="11" text-anchor="middle" fill="#1a1a1a">wt</text>
<text x="626.4" y="802.8" font-size="11" text-anchor="middle" fill="#1a1a1a">AD</text>
<line x1="515.00" y1="810.00" x2="649.20" y2="810.00" stroke="#686868" stroke-width="1.5"/>
<text x="580.9" y="825.7" font-size="10.4" font-weight="bold" text-anchor="middle" fill="#000">24</text>
<path d="M396.30 680.00 V670.60 H417.50 V713.30" fill="none" stroke="#484848" stroke-width="1.0"/>
<text x="407.3" y="665.8" font-size="8.4" font-weight="bold" text-anchor="middle" fill="#111">§</text>
<path d="M617.20 683.00 V670.60 H639.00 V720.90" fill="none" stroke="#484848" stroke-width="1.0"/>
<text x="628.4" y="665.8" font-size="8.4" font-weight="bold" text-anchor="middle" fill="#111">§§§</text>
<text transform="translate(22.7,719.8) rotate(-90)" font-size="10.4" font-weight="bold" text-anchor="middle" textLength="94.6" lengthAdjust="spacingAndGlyphs">Acetyl-RAR<tspan font-family='"Liberation Serif", serif' font-weight="normal" fill="#666">β</tspan>/RAR<tspan font-family='"Liberation Serif", serif' font-weight="normal" fill="#666">β</tspan></text>
<text x="21.7" y="785.9" font-size="10.6" font-weight="bold" text-anchor="start" fill="#000" textLength="42" lengthAdjust="spacingAndGlyphs">SLAB51</text>
<text x="29.8" y="804.3" font-size="11" font-weight="bold" text-anchor="start" fill="#000" textLength="25.2" lengthAdjust="spacingAndGlyphs">Mice</text>
<text x="9.8" y="825.5" font-size="11" font-weight="bold" text-anchor="start" fill="#000" textLength="63.8" lengthAdjust="spacingAndGlyphs">Age (weeks)</text>
</svg></body></html>
